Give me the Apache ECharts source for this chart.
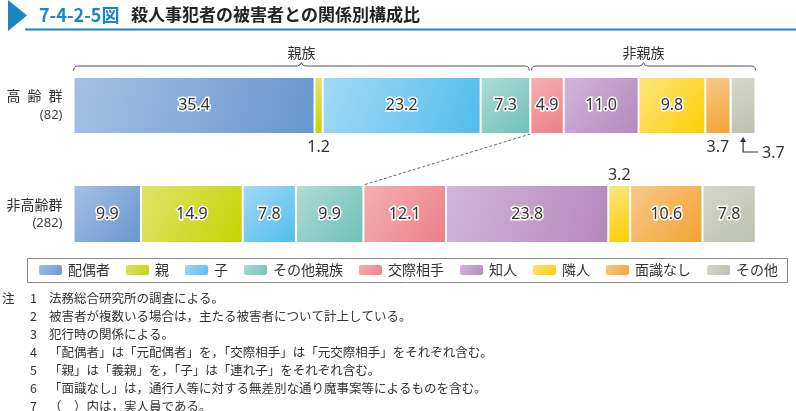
<!DOCTYPE html>
<html><head><meta charset="utf-8">
<script src="https://cdn.jsdelivr.net/npm/echarts@6/dist/echarts.min.js"></script>
<style>html,body{margin:0;padding:0;background:#fff}#c{width:796px;height:411px}</style>
</head><body><div id="c"></div>
<script>
const groups = ['配偶者','親','子','その他親族','交際相手','知人','隣人','面識なし','その他'];
const rowNames = ['高\u2002齢\u2002群','非高齢群'];
const rowCounts = ['(82)','(282)'];
const elderly = [35.4,1.2,23.2,7.3,4.9,11.0,9.8,3.7,3.7];
const nonElderly = [9.9,14.9,7.8,9.9,12.1,23.8,3.2,10.6,7.8];
const kinCount = 4; // first four groups are 親族
const bracketLabels = ['親族','非親族'];
const notes = [
  '法務総合研究所の調査による。',
  '被害者が複数いる場合は，主たる被害者について計上している。',
  '犯行時の関係による。',
  '「配偶者」は「元配偶者」を，「交際相手」は「元交際相手」をそれぞれ含む。',
  '「親」は「義親」を，「子」は「連れ子」をそれぞれ含む。',
  '「面識なし」は，通行人等に対する無差別な通り魔事案等によるものを含む。',
  '（　）内は，実人員である。'
];
const palette = [
  ['#a6c0e4','#6796ce'],['#dde46e','#c6d300'],['#a3daf6','#52bcec'],
  ['#b0dcd5','#6ec0b6'],['#f4b0b3','#ec7f87'],['#d2b6da','#b587bc'],
  ['#fee481','#fcce00'],['#f8c98a','#f3a233'],['#d5d8cc','#bcc0af']
];
const outside = {'0-1':'bottom','0-7':'bottom','0-8':'arrow','1-6':'top'};

const chart = echarts.init(document.getElementById('c'));
const L = 73.5, R = 40.3;
const grids = [{left:L,right:R,top:77,height:57},{left:L,right:R,top:185,height:58}];
const rows = [elderly, nonElderly];
const FONT = 'Noto Sans CJK JP';
const NUMFONT = 'Noto Sans';

const series = [];
rows.forEach((vals, r) => {
  vals.forEach((v, i) => {
    const pos = outside[r + '-' + i];
    let label;
    if (!pos) {
      label = {show:true, position:'inside', color:'#333', fontSize:16, fontFamily:NUMFONT,
               textBorderColor:'#fff', textBorderWidth:3, formatter: p => p.value.toFixed(1)};
    } else if (pos === 'arrow') {
      label = {show:false};
    } else {
      label = {show:true, position:pos, distance: pos==='top'?2:5, color:'#333', fontSize:16,
               fontFamily:NUMFONT, formatter: p => p.value.toFixed(1)};
    }
    series.push({
      name: groups[i], type:'bar', stack:'s'+r, xAxisIndex:r, yAxisIndex:r,
      barWidth: grids[r].height, data:[v], label,
      itemStyle:{color:new echarts.graphic.LinearGradient(0,0,1,1,[{offset:0,color:palette[i][0]},{offset:1,color:palette[i][1]}]),
                 borderColor:'#fff', borderWidth:1},
      emphasis:{disabled:true}, animation:false
    });
  });
});

const sum = a => Math.round(a.reduce((s,x)=>s+x,0)*10)/10;

chart.setOption({
  animation:false,
  textStyle:{fontFamily:FONT},
  grid: grids,
  xAxis: rows.map((vals,r)=>({type:'value', gridIndex:r, min:0, max:sum(vals), show:false})),
  yAxis: rows.map((vals,r)=>({type:'category', gridIndex:r, data:[rowNames[r]],
    axisLine:{show:false}, axisTick:{show:false},
    axisLabel:{margin:11, formatter: () => '{n|'+rowNames[r]+'}\n{c|'+rowCounts[r]+'}',
      rich:{n:{fontSize:14, lineHeight:19, color:'#333', align:'right', fontFamily:FONT},
            c:{fontSize:13, lineHeight:19, color:'#444', align:'right', fontFamily:NUMFONT}}}})),
  legend:{left:37, top:263, padding:0, itemWidth:25, itemHeight:12, itemGap:14,
    data:groups, selectedMode:false, textStyle:{fontSize:14, color:'#333', fontFamily:FONT, lineHeight:14}},
  series
});

function px(r, v){ return chart.convertToPixel({gridIndex:r}, [v, 0])[0]; }
const cum = (a,n)=>a.slice(0,n).reduce((s,x)=>s+x,0);
const g = [];
// title
g.push({type:'polygon', shape:{points:[[8,0],[27,15.5],[8,31]]}, style:{fill:'#1a86c4'}});
g.push({type:'rect', shape:{x:25,y:28.5,width:771,height:2}, style:{fill:'#1a86c4'}});
g.push({type:'text', x:39, y:15, style:{text:'7-4-2-5図', fill:'#1a86c4', font:'bold 18px "Noto Sans CJK JP"', textVerticalAlign:'middle'}});
g.push({type:'text', x:131, y:15, style:{text:'殺人事犯者の被害者との関係別構成比', fill:'#222', font:'bold 17px "Noto Sans CJK JP"', textVerticalAlign:'middle'}});
// brackets
const kinEnd = cum(elderly, kinCount);
const spans = [[0, kinEnd],[kinEnd, sum(elderly)]];
spans.forEach((s,k)=>{
  const x1 = px(0,s[0]) + (k?1:0), x2 = px(0,s[1]) - (k?0:1), xm=(x1+x2)/2, y=66;
  g.push({type:'polyline', shape:{points:[[x1,70.5],[x1+0.6,67.8],[x1+1.8,66.5],[x1+4,66],[xm-4,y],[xm-1.5,y-1],[xm,y-3.5],[xm+1.5,y-1],[xm+4,y],[x2-4,y],[x2-1.8,66.5],[x2-0.6,67.8],[x2,70.5]]},
    style:{fill:null, stroke:'#555', lineWidth:1}});
  g.push({type:'text', x:xm, y:53, style:{text:bracketLabels[k], fill:'#333', font:'14px "Noto Sans CJK JP"', textAlign:'center', textVerticalAlign:'middle'}});
});
// dotted connector
g.push({type:'line', shape:{x1:px(0,kinEnd), y1:grids[0].top+grids[0].height, x2:px(1,cum(nonElderly,kinCount)), y2:grids[1].top},
  style:{stroke:'#666', lineWidth:1, lineDash:[3,2]}});
// elbow arrow for last segment of elderly row
const ai = elderly.length-1;
const ax = px(0, cum(elderly,ai) + elderly[ai]/2), ay = grids[0].top+grids[0].height+3;
g.push({type:'polyline', shape:{points:[[ax,ay+2],[ax,ay+15],[ax+15,ay+15]]}, style:{stroke:'#333', lineWidth:1.2, fill:null}});
g.push({type:'polygon', shape:{points:[[ax,ay],[ax-3,ay+5],[ax+3,ay+5]]}, style:{fill:'#333'}});
g.push({type:'text', x:ax+19, y:ay+16, style:{text:elderly[ai].toFixed(1), fill:'#333', font:'16px "Noto Sans"', textVerticalAlign:'middle'}});
// legend frame
g.push({type:'rect', shape:{x:27.5,y:258.5,width:760,height:24}, style:{fill:null, stroke:'#888', lineWidth:1}});
// notes
notes.forEach((t,i)=>{
  const y = 298 + i*18;
  if (i===0) g.push({type:'text', x:2, y, style:{text:'注', fill:'#333', font:'12.5px "Noto Sans CJK JP"', textVerticalAlign:'middle'}});
  g.push({type:'text', x:30, y, style:{text:String(i+1), fill:'#333', font:'12.5px "Noto Sans CJK JP"', textVerticalAlign:'middle'}});
  g.push({type:'text', x:49, y, style:{text:t, fill:'#333', font:'12.5px "Noto Sans CJK JP"', textVerticalAlign:'middle'}});
});
chart.setOption({graphic:g});
</script></body></html>
